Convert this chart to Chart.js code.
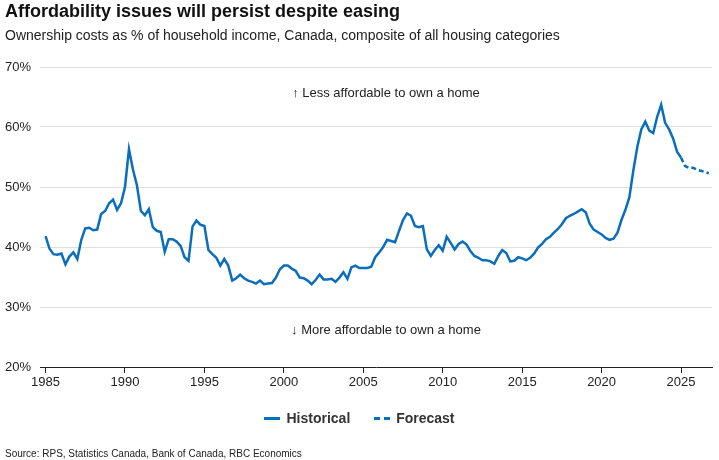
<!DOCTYPE html>
<html>
<head>
<meta charset="utf-8">
<script src="https://cdn.jsdelivr.net/npm/chart.js@4.4.1/dist/chart.umd.min.js"></script>
<style>
  body { margin: 0; background: #fff; font-family: "Liberation Sans", Arial, sans-serif; color: #222; }
  #wrap { position: relative; width: 719px; height: 460px; overflow: hidden; }
  #chart { position: absolute; left: 0; top: 0; }
  .txt { position: absolute; white-space: nowrap; }
  #title { left: 5px; top: 1px; font-size: 18px; font-weight: bold; color: #111; }
  #sub { left: 5px; top: 27px; font-size: 14px; color: #222; }
  .note { left: 0; width: 772px; text-align: center; font-size: 13px; color: #222; }
  #legend { left: 0; width: 719px; top: 410px; text-align: center; font-size: 14px; font-weight: bold; color: #333; }
  #legend span.item { display: inline-block; margin: 0 10px; }
  #legend i { display: inline-block; width: 16px; height: 0; vertical-align: middle; margin-right: 6px; position: relative; top: -1px; }
  #source { left: 5px; top: 448px; font-size: 10px; color: #222; }
</style>
</head>
<body>
<div id="wrap">
  <canvas id="chart" width="719" height="460"></canvas>
  <div class="txt" id="title">Affordability issues will persist despite easing</div>
  <div class="txt" id="sub">Ownership costs as % of household income, Canada, composite of all housing categories</div>
  <div class="txt note" style="top:85px">↑ Less affordable to own a home</div>
  <div class="txt note" style="top:322px">↓ More affordable to own a home</div>
  <div class="txt" id="legend">
    <span class="item"><i style="border-top:3px solid #0a6ebd"></i>Historical</span>
    <span class="item"><i style="border-top:3px dashed #0a6ebd"></i>Forecast</span>
  </div>
  <div class="txt" id="source">Source: RPS, Statistics Canada, Bank of Canada, RBC Economics</div>
</div>
<script>
// quarterly series, first quarter = 1985 Q1
const startYear = 1985;
const historical = [
  41.8, 39.7, 38.8, 38.7, 38.9, 37.1, 38.4, 39.1, 38.0, 41.2,
  43.1, 43.2, 42.8, 42.9, 45.5, 46.0, 47.3, 47.9, 46.2, 47.3,
  50.0, 56.3, 52.9, 50.3, 46.0, 45.3, 46.3, 43.3, 42.7, 42.5,
  39.2, 41.3, 41.3, 40.9, 40.2, 38.3, 37.7, 43.4, 44.4, 43.7,
  43.5, 39.5, 38.8, 38.2, 36.9, 38.0, 36.9, 34.4, 34.8, 35.4,
  34.8, 34.4, 34.2, 33.9, 34.4, 33.8, 33.9, 34.0, 34.9, 36.3,
  36.9, 36.9, 36.4, 36.0, 34.9, 34.8, 34.4, 33.8, 34.5, 35.4,
  34.6, 34.6, 34.7, 34.2, 34.9, 35.8, 34.7, 36.6, 36.9, 36.5,
  36.5, 36.5, 36.7, 38.3, 39.1, 40.0, 41.2, 41.0, 40.8, 42.7,
  44.5, 45.6, 45.2, 43.5, 43.3, 43.5, 39.6, 38.5, 39.5, 40.3,
  39.4, 41.7, 40.7, 39.6, 40.5, 40.9, 40.4, 39.3, 38.5, 38.2,
  37.8, 37.8, 37.6, 37.2, 38.5, 39.5, 39.0, 37.6, 37.7, 38.3,
  38.1, 37.8, 38.2, 38.9, 39.9, 40.5, 41.3, 41.7, 42.4, 43.0,
  43.8, 44.8, 45.2, 45.5, 45.9, 46.3, 45.8, 43.9, 42.9, 42.5,
  42.1, 41.5, 41.2, 41.4, 42.4, 44.5, 46.2, 48.3, 52.8, 56.7,
  59.6, 60.9, 59.4, 59.0, 61.7, 63.7, 60.7, 59.6, 58.1, 55.9,
  54.9
];
// forecast picks up at the last historical quarter
const forecast = [54.9, 53.5, 53.2, 53.2, 52.9, 52.7, 52.5, 52.3];
const forecastStart = historical.length - 1;
const yearTicks = [1985, 1990, 1995, 2000, 2005, 2010, 2015, 2020, 2025];
const pctTicks = [20, 30, 40, 50, 60, 70];

const blue = '#0a6ebd';
const histPoints = historical.map((v, i) => ({ x: startYear + i / 4, y: v }));
const fcPoints = forecast.map((v, i) => ({ x: startYear + (forecastStart + i) / 4, y: v }));

new Chart(document.getElementById('chart').getContext('2d'), {
  type: 'line',
  data: {
    datasets: [
      { label: 'Historical', data: histPoints, borderColor: blue, borderWidth: 2.5, pointRadius: 0, tension: 0 },
      { label: 'Forecast', data: fcPoints, borderColor: blue, borderWidth: 2.5, borderDash: [5, 3], pointRadius: 0, tension: 0 }
    ]
  },
  options: {
    responsive: false,
    animation: false,
    layout: { padding: { top: 67, left: 0, right: 7, bottom: 66 } },
    plugins: { legend: { display: false }, tooltip: { enabled: false } },
    scales: {
      x: {
        type: 'linear',
        min: 1984.65,
        max: 2026.95,
        afterBuildTicks: function (axis) {
          axis.ticks = yearTicks.map(v => ({ value: v }));
        },
        afterFit: function (axis) { axis.height = 27; },
        grid: { drawOnChartArea: false, drawTicks: true, tickLength: 6, color: '#222' },
        border: { display: true, color: '#222', width: 1 },
        ticks: {
          padding: 2,
          color: '#222',
          font: { family: '"Liberation Sans", Arial', size: 13 },
          callback: function (v) { return String(v); }
        }
      },
      y: {
        min: 20,
        max: 70,
        afterBuildTicks: function (axis) {
          axis.ticks = pctTicks.map(v => ({ value: v }));
        },
        afterFit: function (axis) { axis.width = 40; },
        grid: { color: '#e0e0e0', lineWidth: 1, drawTicks: false },
        border: { display: false },
        ticks: {
          padding: 9,
          color: '#222',
          font: { family: '"Liberation Sans", Arial', size: 13 },
          callback: function (v) { return v + '%'; }
        }
      }
    }
  }
});
</script>
</body>
</html>
